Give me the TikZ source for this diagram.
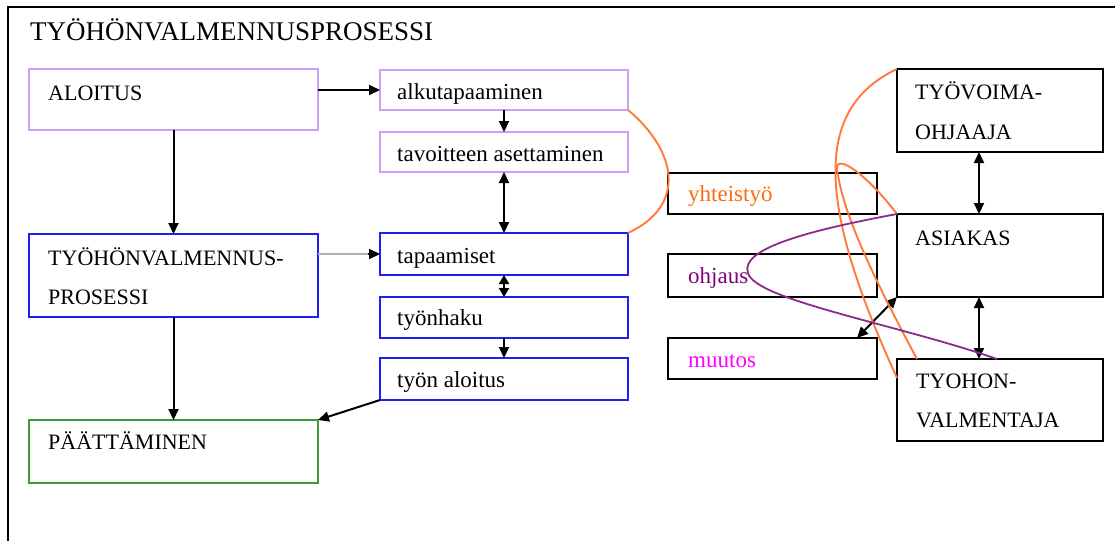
\documentclass[tikz,border=0pt]{standalone}
\usepackage{fontspec}
\setmainfont{Liberation Serif}
\usetikzlibrary{arrows.meta}
\definecolor{lav}{HTML}{C9A0F5}
\definecolor{bluebox}{HTML}{1F1FF5}
\definecolor{greenbox}{HTML}{3A9A3A}
\definecolor{orangeline}{HTML}{FF7A3A}
\definecolor{orangetext}{HTML}{FF6A10}
\definecolor{purpleline}{HTML}{8A2A8A}
\definecolor{purpletext}{HTML}{800080}
\definecolor{magentatext}{HTML}{FF00FF}
\tikzset{
  box/.style={draw=#1, line width=2.1pt, fill=white, anchor=north west,
    inner sep=0pt, outer sep=0pt},
  caps/.style={anchor=base west, inner sep=0pt, font=\fontsize{22}{26}\selectfont},
  lower/.style={anchor=base west, inner sep=0pt, font=\fontsize{23}{27}\selectfont},
  conn/.style={line width=2pt, -{Triangle[length=11pt,width=10pt]}},
  biconn/.style={line width=2pt, {Triangle[length=11pt,width=10pt]}-{Triangle[length=11pt,width=10pt]}},
  orangecurve/.style={draw=orangeline, line width=1.9pt},
  purplecurve/.style={draw=purpleline, line width=1.8pt},
}
\begin{document}
\begin{tikzpicture}[x=1pt,y=-1pt]
\useasboundingbox (0,0) rectangle (1115,541);
% frame
\coordinate (frameTL) at (8,7);
\coordinate (frameTR) at (1115,7);
\coordinate (frameBL) at (8,541);
\draw[line width=2.2pt] (frameTR) -- (frameTL) -- (frameBL);
\node[anchor=base west, inner sep=0pt, font=\fontsize{27}{31}\selectfont] (title) at (30,40) {TYÖHÖNVALMENNUSPROSESSI};

% main phases
\node[box=lav, minimum width=289pt, minimum height=61pt] (aloitus) at (29,69) {};
\node[caps] (aloitusT) at (48,100) {ALOITUS};
\node[box=bluebox, minimum width=289pt, minimum height=83pt] (prosessi) at (29,234) {};
\node[caps] (prosessiT1) at (48,265) {TYÖHÖNVALMENNUS-};
\node[caps] (prosessiT2) at (48,304) {PROSESSI};
\node[box=greenbox, minimum width=289pt, minimum height=63pt] (paatt) at (29,420) {};
\node[caps] (paattT) at (48,449) {PÄÄTTÄMINEN};

% steps
\node[box=lav, minimum width=248pt, minimum height=40pt] (alku) at (380,70) {};
\node[lower] (alkuT) at (397,99) {alkutapaaminen};
\node[box=lav, minimum width=248pt, minimum height=40pt] (tavo) at (380,132) {};
\node[lower] (tavoT) at (397,161) {tavoitteen asettaminen};
\node[box=bluebox, minimum width=248pt, minimum height=42pt] (tapa) at (380,233) {};
\node[lower] (tapaT) at (397,263) {tapaamiset};
\node[box=bluebox, minimum width=248pt, minimum height=41pt] (haku) at (380,297) {};
\node[lower] (hakuT) at (397,325) {työnhaku};
\node[box=bluebox, minimum width=248pt, minimum height=42pt] (tyonal) at (380,358) {};
\node[lower] (tyonalT) at (397,387) {työn aloitus};

% themes
\node[box=black, minimum width=209pt, minimum height=41pt] (yht) at (668,173) {};
\node[lower, text=orangetext] (yhtT) at (688,201) {yhteistyö};
\node[box=black, minimum width=209pt, minimum height=43pt] (ohj) at (668,254) {};
\node[lower, text=purpletext] (ohjT) at (688,283) {ohjaus};
\node[box=black, minimum width=209pt, minimum height=41pt] (muut) at (668,338) {};
\node[lower, text=magentatext] (muutT) at (688,367) {muutos};

% actors
\node[box=black, minimum width=206pt, minimum height=83pt] (tyovoima) at (897,69) {};
\node[caps] (tyovoimaT1) at (915,99) {TYÖVOIMA-};
\node[caps] (tyovoimaT2) at (915,139) {OHJAAJA};
\node[box=black, minimum width=206pt, minimum height=83pt] (asiakas) at (897,214) {};
\node[caps] (asiakasT) at (915,245) {ASIAKAS};
\node[box=black, minimum width=206pt, minimum height=82pt] (tyohon) at (897,359) {};
\node[caps] (tyohonT1) at (916,388) {TYOHON-};
\node[caps] (tyohonT2) at (916,427) {VALMENTAJA};

% flow connectors
\draw[conn] (alku.west -| aloitus.east) -- (alku.west);
\draw[conn] (aloitus.south) -- (prosessi.north);
\draw[line width=2pt, draw=gray!60] (tapa.west -| prosessi.east) -- ([xshift=-9pt]tapa.west);
\draw[conn] ([xshift=-12pt]tapa.west) -- (tapa.west);
\draw[conn] (prosessi.south) -- (paatt.north);
\draw[conn] (alku.south) -- (tavo.north);
\draw[biconn] (tavo.south) -- (tapa.north);
\draw[line width=2pt, {Triangle[length=9pt,width=10pt]}-{Triangle[length=9pt,width=10pt]}] (tapa.south) -- (haku.north);
\draw[conn] (haku.south) -- (tyonal.north);
\draw[conn] (tyonal.south west) -- (paatt.north east);

% actor connectors
\draw[biconn] ([xshift=-21pt]tyovoima.south) -- ([xshift=-21pt]asiakas.north);
\draw[biconn] ([xshift=-21pt]asiakas.south) -- ([xshift=-21pt]tyohon.north);
\draw[biconn] (asiakas.south west) -- ([xshift=-20pt]muut.north east);

% links between the two halves
\draw[orangecurve] (alku.south east) .. controls (676,150) and (688,205) .. (tapa.north east);
\draw[orangecurve] (tyovoima.north west) .. controls (810,110) and (820,210) .. ([yshift=-19pt]tyohon.north west);
\draw[orangecurve] (asiakas.north west) .. controls (865,172) and (830,148) .. (838,175)
  .. controls (845,220) and (880,290) .. ([xshift=20pt]tyohon.north west);
\draw[purplecurve] (asiakas.north west) .. controls (800,232) and (740,250) .. (748,273)
  .. controls (755,300) and (900,325) .. ([xshift=100pt]tyohon.north west);
\end{tikzpicture}
\end{document}
